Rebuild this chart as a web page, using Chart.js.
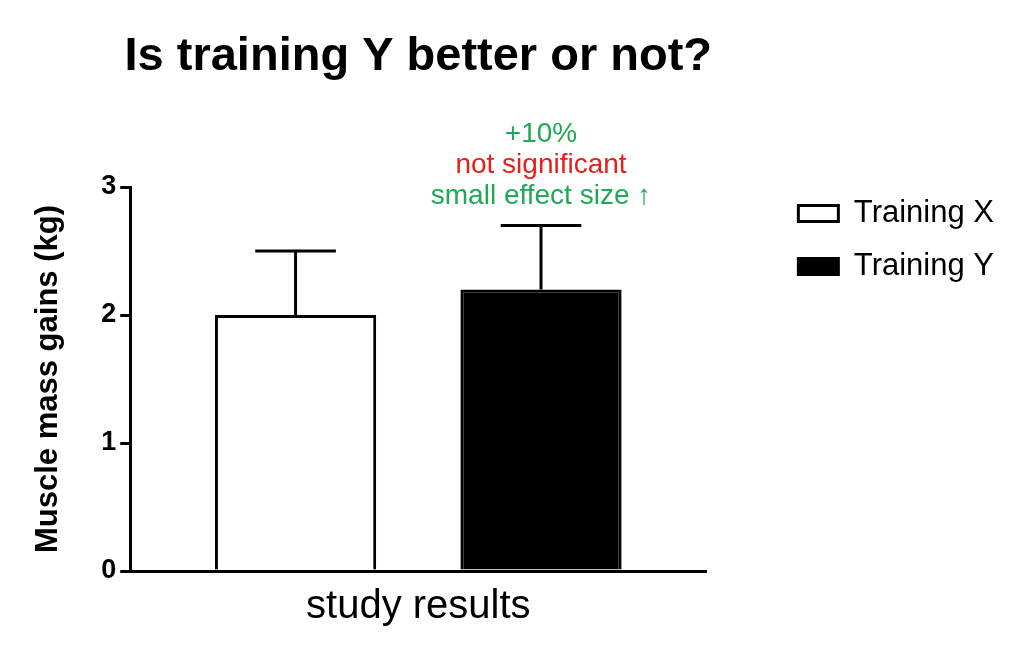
<!DOCTYPE html>
<html>
<head>
<meta charset="utf-8">
<script src="https://cdn.jsdelivr.net/npm/chart.js@4"></script>
<style>
  html, body { margin: 0; padding: 0; background: #fff; }
  #wrap { width: 1024px; height: 659px; }
</style>
</head>
<body>
<div id="wrap"><canvas id="chart" width="1024" height="659"></canvas></div>
<script>
// data
const categories = ['study results'];
const seriesNames = ['Training X', 'Training Y'];
const means = [2.0, 2.2];
const errors = [0.5, 0.5];
const yTicks = [0, 1, 2, 3];
const noteLines = ['+10%', 'not significant', 'small effect size \u2191'];
const noteColors = ['#1fa855', '#e3201b', '#1fa855'];

const FONT = '"Liberation Sans", Arial, sans-serif';

// error bars (upward only), the note above bar Y and the title
const extras = {
    id: 'extras',
    afterDatasetsDraw(chart) {
        const ctx = chart.ctx;
        const y = chart.scales.y;
        ctx.save();
        ctx.strokeStyle = '#000';
        ctx.lineWidth = 3;
        chart.data.datasets.forEach((ds, i) => {
            const bar = chart.getDatasetMeta(i).data[0];
            const top = y.getPixelForValue(means[i] + errors[i]);
            const half = bar.width / 4;
            ctx.beginPath();
            ctx.moveTo(bar.x, bar.y);
            ctx.lineTo(bar.x, top);
            ctx.moveTo(bar.x - half, top);
            ctx.lineTo(bar.x + half, top);
            ctx.stroke();
        });

        // note above bar Y
        const barY = chart.getDatasetMeta(1).data[0];
        ctx.font = '28px ' + FONT;
        ctx.textAlign = 'center';
        ctx.textBaseline = 'middle';
        noteLines.forEach((t, k) => {
            ctx.fillStyle = noteColors[k];
            ctx.fillText(t, barY.x, 134 + k * 31);
        });

        // title, centred on the plot area
        const area = chart.chartArea;
        ctx.fillStyle = '#000';
        ctx.font = 'bold 47px ' + FONT;
        ctx.fillText('Is training Y better or not?', (area.left + area.right) / 2, 57);
        ctx.restore();
    }
};

const chart = new Chart(document.getElementById('chart'), {
    type: 'bar',
    data: {
        labels: categories,
        datasets: [{
            label: seriesNames[0],
            data: [means[0]],
            backgroundColor: '#fff',
            borderColor: '#000',
            borderWidth: 3,
            borderSkipped: 'bottom'
        }, {
            label: seriesNames[1],
            data: [means[1]],
            backgroundColor: '#000',
            borderColor: '#000',
            borderWidth: 3,
            borderSkipped: 'bottom'
        }]
    },
    options: {
        responsive: false,
        animation: false,
        categoryPercentage: 0.852,
        barPercentage: 0.657,
        layout: { padding: { top: 176, left: 30, right: 20, bottom: 24 } },
        plugins: {
            title: { display: false },
            tooltip: { enabled: false },
            legend: {
                position: 'right',
                align: 'start',
                maxWidth: 300,
                labels: {
                    boxWidth: 40,
                    boxHeight: 16,
                    padding: 22,
                    color: '#000',
                    font: { family: FONT, size: 31 }
                }
            }
        },
        scales: {
            x: {
                grid: { display: false },
                border: { display: true, color: '#000', width: 3 },
                ticks: { color: '#000', font: { family: FONT, size: 40 }, padding: 4 }
            },
            y: {
                min: 0,
                max: 3,
                afterBuildTicks(axis) {
                    axis.ticks = yTicks.map(v => ({ value: v }));
                },
                grid: { drawOnChartArea: false, color: '#000', lineWidth: 3, tickLength: 10 },
                border: { display: true, color: '#000', width: 3 },
                ticks: { color: '#000', font: { family: FONT, size: 27, weight: 'bold' }, padding: 4 },
                title: {
                    display: true,
                    text: 'Muscle mass gains (kg)',
                    color: '#000',
                    font: { family: FONT, size: 31, weight: 'bold' },
                    padding: { top: 0, bottom: 30 }
                }
            },
            // empty spacers: room above the plot and between plot and legend
            xTop: {
                type: 'category',
                position: 'top',
                grid: { display: false },
                border: { display: false },
                ticks: { display: false },
                afterFit(s) { s.height = 11; }
            },
            yRight: {
                type: 'linear',
                position: 'right',
                grid: { display: false },
                border: { display: false },
                ticks: { display: false },
                afterFit(s) { s.width = 70; }
            }
        }
    },
    plugins: [extras]
});
</script>
</body>
</html>
